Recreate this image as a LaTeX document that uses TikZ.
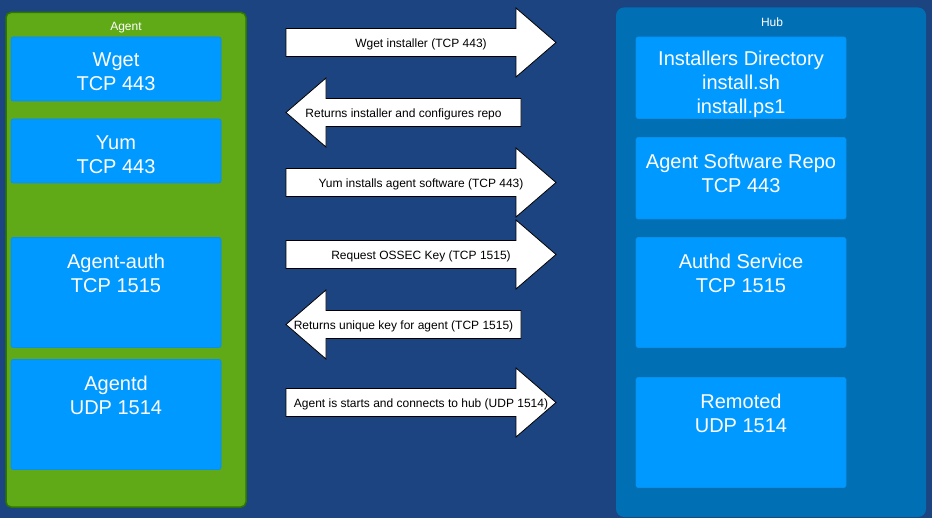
\documentclass[tikz,border=0pt]{standalone}
\usepackage{fontspec}
\setmainfont{Liberation Sans}
\definecolor{bgblue}{HTML}{1B4480}
\definecolor{agentgreen}{HTML}{60A917}
\definecolor{agentborder}{HTML}{2D7600}
\definecolor{boxblue}{HTML}{0099FF}
\definecolor{boxedge}{HTML}{0A8FEA}
\definecolor{hubblue}{HTML}{006FB4}
\begin{document}
\begin{tikzpicture}[x=1pt,y=-1pt,
  bbox/.style={fill=boxblue,draw=boxedge,line width=0.6pt,rounded corners=2pt},
  btext/.style={text=white,align=center,inner sep=0pt,yshift=-1.2pt,font=\fontsize{20}{24}\selectfont},
  clabel/.style={text=white,inner sep=0pt,yshift=-1.5pt,font=\fontsize{12}{14}\selectfont},
  arr/.style={fill=white,draw=black,line width=0.8pt,line join=miter},
  atext/.style={text=black,inner sep=0pt,yshift=-1.8pt,font=\fontsize{12}{14}\selectfont},
  rarr/.pic={\draw[arr] (0,-14)--(230,-14)--(230,-34.5)--(270,0)--(230,34.5)--(230,14)--(0,14)--cycle;},
  larr/.pic={\draw[arr] (0,0)--(40,-34.5)--(40,-14)--(235,-14)--(235,14)--(40,14)--(40,34.5)--cycle;}
]
\fill[bgblue] (0,0) rectangle (932,518);
\useasboundingbox (0,0) rectangle (932,518);

% Agent container
\draw[fill=agentgreen,draw=agentborder,line width=1.5pt,rounded corners=5pt] (6,12.5) rectangle (246,507);
\node[clabel] (agentlbl) at (126,26.5) {Agent};

% Hub container
\fill[hubblue,rounded corners=8pt] (616,7.5) rectangle (926,517);
\node[clabel] (hublbl) at (772,20.5) {Hub};

% Agent boxes
\path[bbox] (11,37) rectangle (221,101);
\node[btext] (wget) at (116,71) {Wget\\TCP 443};
\path[bbox] (11,119) rectangle (221,183);
\node[btext] (yum) at (116,153.5) {Yum\\TCP 443};
\path[bbox] (11,237.5) rectangle (221,347.5);
\node[btext] (aauth) at (116,272) {Agent-auth\\TCP 1515};
\path[bbox] (11,359.5) rectangle (221,469.5);
\node[btext] (agentd) at (116,394) {Agentd\\UDP 1514};

% Hub boxes
\path[bbox] (636,37) rectangle (846,118.5);
\node[btext] (inst) at (741,83) {Installers Directory\\install.sh\\install.ps1};
\path[bbox] (636,137.5) rectangle (846,219);
\node[btext] (repo) at (741,172) {Agent Software Repo\\TCP 443};
\path[bbox] (636,237.5) rectangle (846,347.5);
\node[btext] (authd) at (741,272) {Authd Service\\TCP 1515};
\path[bbox] (636,377.5) rectangle (846,487.5);
\node[btext] (remoted) at (741,412) {Remoted\\UDP 1514};

% Arrows
\pic at (286,42.5) {rarr};
\node[atext] (a1) at (421,42.5) {Wget installer (TCP 443)};
\pic at (286,112.5) {larr};
\node[atext] (a2) at (403.5,112.5) {Returns installer and configures repo};
\pic at (286,182.5) {rarr};
\node[atext] (a3) at (421,182.5) {Yum installs agent software (TCP 443)};
\pic at (286,254.5) {rarr};
\node[atext] (a4) at (421,254.5) {Request OSSEC Key (TCP 1515)};
\pic at (286,324.5) {larr};
\node[atext] (a5) at (403.5,324.5) {Returns unique key for agent (TCP 1515)};
\pic at (286,402.5) {rarr};
\node[atext] (a6) at (421,402.5) {Agent is starts and connects to hub (UDP 1514)};
\end{tikzpicture}
\end{document}
